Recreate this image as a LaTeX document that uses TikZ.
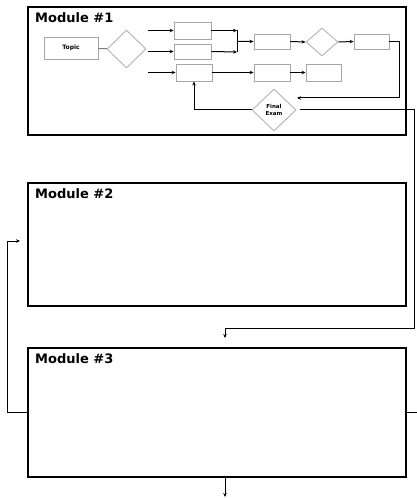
\documentclass[tikz,border=0pt]{standalone}
\usepackage{fontspec}
\setmainfont{Liberation Sans}
\newfontfamily\headfont{DejaVu Sans}
\usetikzlibrary{positioning, calc, shapes.geometric, arrows.meta}

\begin{document}
\begin{tikzpicture}[x=1pt,y=-1pt,
  module/.style={rectangle,draw,line width=2.4pt,anchor=north west,minimum width=378pt,inner sep=0,outer sep=0},
  modlabel/.style={anchor=west,inner sep=0,font=\headfont\bfseries\fontsize{13}{13}\selectfont},
  tbox/.style={rectangle,draw=gray!70,line width=0.9pt,minimum width=36pt,minimum height=16pt,inner sep=0},
  dmd/.style={diamond,draw=gray!60,line width=0.9pt,inner sep=0,align=center,font=\headfont\bfseries\fontsize{5.5}{6.5}\selectfont},
  arr/.style={-{Stealth[length=4pt,width=3.5pt]},line width=1pt},
  ln/.style={line width=1pt}]
\useasboundingbox (0,0) rectangle (417,500);
% modules
\node (m1) [module,minimum height=128pt] at (28,7) {};
\node (m2) [module,minimum height=123pt] at (28,183) {};
\node (m3) [module,minimum height=129pt] at (28,348) {};
\node (l1) [modlabel] at (35,18) {Module \#1};
\node (l2) [modlabel] at (35,194) {Module \#2};
\node (l3) [modlabel] at (35,359) {Module \#3};
% inside module 1
\node (topic) [tbox,minimum width=54pt,minimum height=22pt,font=\headfont\bfseries\fontsize{6}{6}\selectfont] at (71,48) {Topic};
\node (d1) [dmd,minimum width=39pt,minimum height=38pt] at (126.5,49) {};
\node (a) [tbox,minimum width=37pt,minimum height=17pt] at (192.5,30.5) {};
\node (b) [tbox,minimum width=37pt,minimum height=15pt] at (192.5,51.5) {};
\node (c) [tbox,minimum height=17pt] at (194,72.5) {};
\node (d) [tbox,minimum height=15pt] at (272,41.5) {};
\node (d2) [dmd,minimum width=32pt,minimum height=28pt] at (322,42) {};
\node (e) [tbox,minimum width=35pt,minimum height=15pt] at (371.5,41.5) {};
\node (f) [tbox,minimum height=17pt] at (272,72.5) {};
\node (g) [tbox,minimum width=35pt,minimum height=17pt] at (323.5,72.5) {};
\node (final) [dmd,minimum width=44pt,minimum height=42pt] at (274,110) {Final\\Exam};
\coordinate (ina) at (148,30.5);
\coordinate (inb) at (148,51.5);
\coordinate (inc) at (148,72.5);
\coordinate (ja) at (237,30.5);
\coordinate (jb) at (237,52);
\coordinate (er) at (399,41.5);
\coordinate (back) at (297,98);
\coordinate (fr) at (300,110);
\coordinate (rr) at (414,110);
\coordinate (top3) at (225,338);
\coordinate (lft) at (7,241);
\coordinate (in2) at (20,241);
\coordinate (rgt) at (417,412.5);
\coordinate (bot) at (225,477);
\coordinate (out) at (225,497);
\draw [ln,gray] (topic) -- (d1);
\draw [arr] (ina) -- (a.west);
\draw [arr] (inb) -- (b.west);
\draw [arr] (inc) -- (c.west);
\draw [arr] (a.east) -- (ja);
\draw [arr] (b.east) -- (jb);
\draw [ln] (ja) -- (jb);
\draw [arr] ($(ja)!0.5!(jb)$) -- (d.west);
\draw [arr] (d.east) -- (d2.west);
\draw [arr] (d2.east) -- (e.west);
\draw [arr] (c.east) -- (f.west);
\draw [arr] (f.east) -- (g.west);
\draw [arr] (e.east) -- (er) -- (er |- back) -- (back);
\draw [arr] (final.west) -- (final.west -| c.south) -- (c.south);
% between modules
\draw [arr] (fr) -- (rr) -- (rr |- 0,328) -- (top3 |- 0,328) -- (top3);
\draw [arr] (m3.west) -- (m3.west -| lft) -- (lft) -- (in2);
\draw [ln] (m3.east) -- (rgt);
\draw [arr] (bot) -- (out);
\end{tikzpicture}
\end{document}
